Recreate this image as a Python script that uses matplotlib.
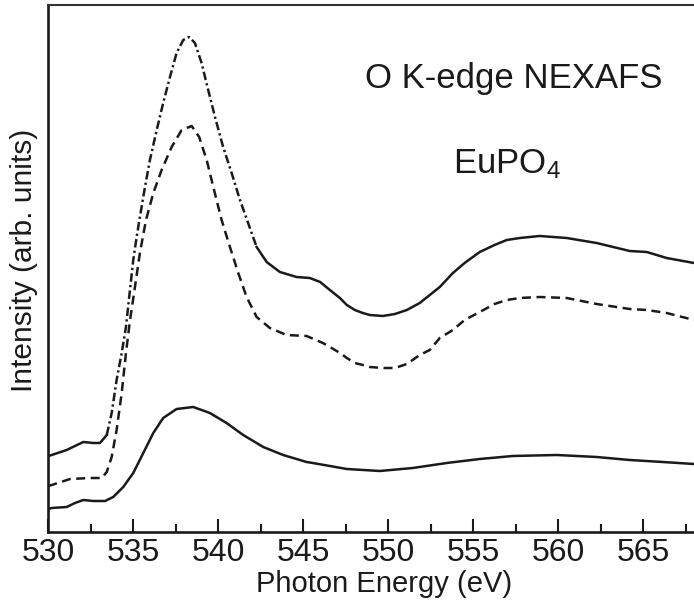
import matplotlib
matplotlib.use("Agg")
import matplotlib.pyplot as plt
import numpy as np

plt.rcParams['font.family'] = ['Liberation Sans', 'DejaVu Sans']
plt.rcParams['mathtext.fontset'] = 'custom'
plt.rcParams['mathtext.rm'] = 'Liberation Sans'
plt.rcParams['mathtext.default'] = 'regular'

# ---- data (photon energy in eV, intensity in arbitrary units) ----
top_energy = [530.0, 530.2, 531.08, 532.06, 532.65, 533.04, 533.44, 533.73, 534.02, 534.32,
              534.57, 534.76, 535.0, 535.2, 535.39, 535.69, 535.98, 536.38, 536.76, 537.16,
              537.55, 537.94, 538.29, 538.63, 539.02, 539.41, 539.81, 540.29, 540.79, 541.28,
              541.76, 542.26, 542.85, 543.63, 544.61, 545.39, 546.0, 546.57, 547.16, 547.57,
              548.04, 548.51, 548.92, 549.69, 550.4, 551.1, 551.86, 552.45, 553.04, 553.81,
              554.5, 555.39, 556.26, 556.98, 557.75, 558.92, 560.51, 562.27, 564.22, 565.22,
              566.39, 568.0]
top_intensity = [76, 77, 82, 90, 89, 89, 97, 119, 152, 179,
                 205, 235, 272, 295, 315, 345, 372, 402, 429, 455,
                 479, 492, 495, 489, 469, 442, 415, 385, 359, 332,
                 309, 285, 270, 260, 255, 254, 250, 242, 234, 227,
                 222, 219, 217, 216, 218, 222, 229, 237, 245, 259,
                 269, 280, 287, 292, 294, 296, 294, 289, 281, 280,
                 274, 269]

mid_energy = [530.0, 530.2, 531.28, 532.45, 533.14, 533.44, 533.73, 534.02, 534.32, 534.57,
              534.81, 535.1, 535.39, 535.75, 536.18, 536.67, 537.26, 537.85, 538.44, 538.88,
              539.32, 539.71, 540.2, 540.69, 541.18, 541.67, 542.26, 543.04, 544.02, 545.2,
              546.16, 546.57, 547.17, 547.57, 548.04, 548.51, 548.92, 549.69, 550.4, 551.1,
              551.86, 552.45, 553.04, 553.81, 554.5, 555.39, 556.26, 556.98, 557.75, 558.92,
              560.51, 562.27, 564.22, 565.22, 566.39, 568.0]
mid_intensity = [46, 47, 53, 54, 54, 60, 75, 102, 139, 179,
                 212, 245, 279, 312, 339, 362, 385, 402, 406, 395,
                 372, 345, 312, 285, 259, 235, 215, 204, 197, 196,
                 189, 185, 179, 174, 169, 167, 165, 164, 164, 168,
                 177, 182, 194, 202, 212, 220, 228, 232, 234, 235,
                 234, 228, 223, 222, 219, 212]

bot_energy = [530.0, 530.2, 531.08, 531.57, 532.06, 532.65, 533.34, 533.82, 534.41, 535.0,
              535.59, 536.18, 536.76, 537.55, 538.53, 539.51, 540.49, 541.47, 542.65, 543.82,
              545.2, 545.57, 547.57, 549.51, 551.45, 553.45, 555.39, 557.33, 559.92, 562.27,
              564.22, 566.16, 568.0]
bot_intensity = [23, 24, 25, 29, 32, 31, 31, 35, 45, 59,
                 79, 99, 114, 123, 125, 119, 109, 97, 85, 77,
                 70, 69, 63, 61, 64, 69, 73, 76, 77, 75,
                 72, 70, 68]

x_ticks = [530, 535, 540, 545, 550, 555, 560, 565]
title_text = "O K-edge NEXAFS"
sample_text = r"EuPO$_{4}$"
x_label = "Photon Energy (eV)"
y_label = "Intensity (arb. units)"

# ---- figure ----
W, H = 694, 601
fig = plt.figure(figsize=(W / 100, H / 100), dpi=100)
ax = fig.add_axes([48.3 / W, (H - 532) / H, (W - 48.3) / W, 527 / H])

col = '#1a1a1a'
lw = 1.8

te = np.array(top_energy)
ti = np.array(top_intensity)
d0, d1 = 533.44, 542.26
m1 = te <= d0
m2 = (te >= d0) & (te <= d1)
m3 = te >= d1
ax.plot(te[m1], ti[m1], color=col, lw=lw, solid_joinstyle='round')
ax.plot(te[m2], ti[m2], color=col, lw=lw, linestyle=(0, (3.4, 1.3, 0.9, 1.3)),
        dash_capstyle='butt', dash_joinstyle='round')
ax.plot(te[m3], ti[m3], color=col, lw=lw, solid_joinstyle='round')

ax.plot(mid_energy, mid_intensity, color=col, lw=lw, linestyle=(0, (3.6, 2.2)),
        dash_joinstyle='round')
ax.plot(bot_energy, bot_intensity, color=col, lw=lw, solid_joinstyle='round')

ax.set_xlim(530, 568)
ax.set_ylim(0, 527)
ax.set_xticks(x_ticks)
ax.set_xticklabels([str(t) for t in x_ticks])
ax.set_xticks(np.arange(532.5, 568, 5), minor=True)
ax.set_yticks([])

ax.tick_params(axis='x', which='major', direction='in', length=9.5, width=1.5,
               labelsize=23, pad=4.5, color=col, labelcolor=col)
ax.tick_params(axis='x', which='minor', direction='in', length=5.8, width=1.5, color=col)
ax.tick_params(top=False, right=False, left=False)

for s in ['left', 'bottom']:
    ax.spines[s].set_linewidth(1.9)
    ax.spines[s].set_color(col)
ax.spines['top'].set_linewidth(1.5)
ax.spines['top'].set_color('#333333')
ax.spines['right'].set_visible(False)

ax.text(557.4, 444, title_text, ha='center', va='baseline', fontsize=25, color=col)
ax.text(557.0, 359, sample_text, ha='center', va='baseline', fontsize=25, color=col)

fig.text(384 / W, 1 - 584 / H, x_label, ha='center', va='center', fontsize=21, color=col)
fig.text(24 / W, 1 - 260 / H, y_label, ha='center', va='center', rotation=90,
         fontsize=21.5, color=col)

fig.savefig("out.png", dpi=100)
